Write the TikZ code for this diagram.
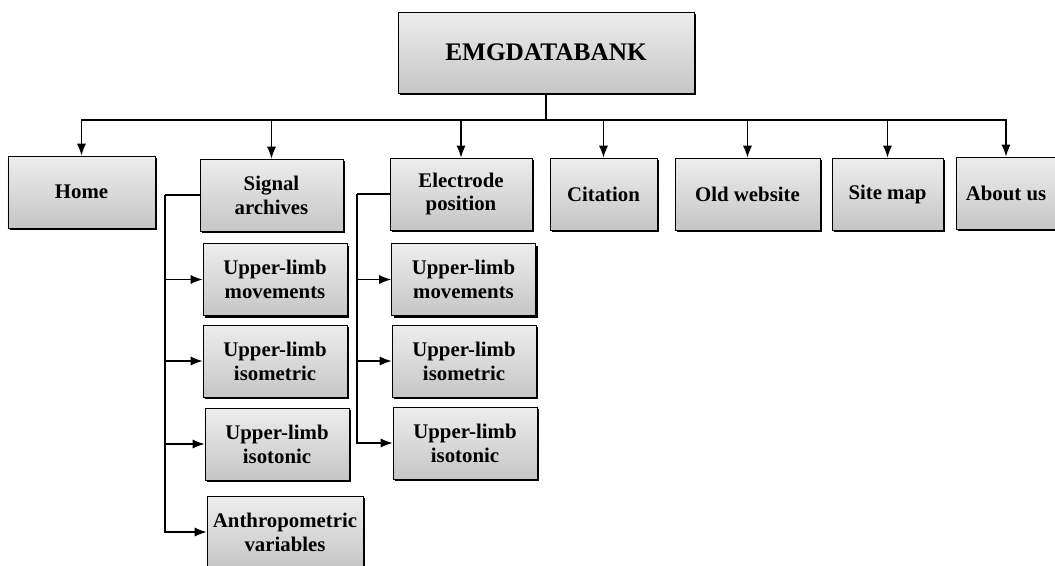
\documentclass[tikz,border=0pt]{standalone}
\usepackage{fontspec}
\setmainfont{Liberation Serif}
\usetikzlibrary{arrows.meta,shadows}

\tikzset{
  pagebox/.style={draw,line width=0.6pt,top color=gray!14,bottom color=gray!45,
    drop shadow={shadow xshift=1.6pt,shadow yshift=-1.6pt,fill=black,opacity=1},
    inner sep=0pt,align=center,font=\fontsize{14.8}{17}\selectfont\bfseries},
  link/.style={line width=0.8pt,-{Latex[length=8.5pt,width=6.5pt]}}
}

\begin{document}
\begin{tikzpicture}[x=0.25mm,y=-0.25mm]
\useasboundingbox (0,0) rectangle (1055,565);
% root and top row
\begin{scope}[every node/.style={pagebox,minimum height=18mm}]
    \node[minimum width=74mm,minimum height=20.25mm,font=\fontsize{18}{20}\selectfont\bfseries] (root) at (546,52.5) {EMGDATABANK};
    \node[minimum width=36.75mm] (home) at (81.5,192) {Home};
    \node[minimum width=35.75mm] (sig) at (271.5,195) {Signal\\archives};
    \node[minimum width=35.5mm] (elec) at (461,194) {Electrode\\position};
    \node[minimum width=26.75mm] (cite) at (603.5,194) {Citation};
    \node[minimum width=36.25mm] (old) at (747.5,194) {Old website};
    \node[minimum width=27.75mm] (smap) at (887.5,194) {Site map};
    \node[minimum width=25mm] (about) at (1006,193) {About us};
\end{scope}
% children of signal archives and electrode position
\begin{scope}[every node/.style={pagebox,minimum width=36mm,minimum height=18mm}]
    \node (smov) at (275,279.5) {Upper-limb\\movements};
    \node (siso) at (275,361) {Upper-limb\\isometric};
    \node (sist) at (277,444) {Upper-limb\\isotonic};
    \node[minimum width=39mm] (santh) at (285,532) {Anthropometric\\variables};
    \node (emov) at (463.5,279.5) {Upper-limb\\movements};
    \node (eiso) at (464,361) {Upper-limb\\isometric};
    \node (eist) at (465,443) {Upper-limb\\isotonic};
\end{scope}
\coordinate (bus) at (546,120);
\coordinate (strunk) at (165,195);
\coordinate (etrunk) at (357,194);
\draw[line width=0.8pt] (root.south) -- (bus);
\foreach \n in {home,sig,elec,cite,old,smap,about}
    \draw[link] (bus) -| (\n.north);
\draw[line width=0.8pt] (sig.west) -- (strunk);
\foreach \n in {smov,siso,sist,santh}
    \draw[link] (strunk) |- (\n.west);
\draw[line width=0.8pt] (elec.west) -- (etrunk);
\foreach \n in {emov,eiso,eist}
    \draw[link] (etrunk) |- (\n.west);
\end{tikzpicture}
\end{document}
